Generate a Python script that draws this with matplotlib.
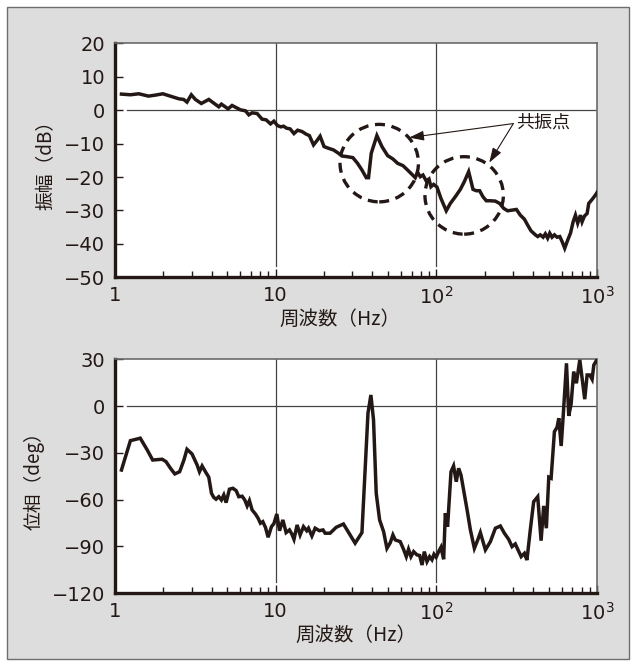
import numpy as np
import matplotlib
matplotlib.use('Agg')
import matplotlib.pyplot as plt
from matplotlib.patches import Ellipse, Rectangle
from matplotlib.ticker import FixedLocator, FixedFormatter, LogLocator, NullFormatter

# 振幅特性 (読み取り値)
freq_mag = [1.10, 1.25, 1.41, 1.62, 1.79, 1.99, 2.21, 2.50, 2.68, 2.81, 2.99, 3.17, 3.45, 3.84,
            4.43, 4.60, 5.06, 5.36, 6.04, 6.49, 6.81, 7.14, 7.67, 8.24, 8.73, 9.29, 9.75, 10.26,
            10.77, 11.2, 11.7, 12.3, 13.0, 13.7, 14.6, 15.5, 16.2, 17.2, 18.0, 18.9, 20.0, 21.3,
            22.9, 24.6, 25.8, 27.7, 30.2, 32.3, 34.4, 36.6, 37.8, 39.3, 42.6, 45.8, 49.7, 53.6,
            57.3, 61.9, 66.1, 70.4, 73.8, 76.3, 79.3, 82.4, 86.4, 89.8, 92.4, 96.0, 100.7, 106.6,
            115, 121.9, 130.9, 140.7, 148.9, 158.5, 168.7, 176.9, 185.5, 194.5, 204, 216, 232,
            247, 262, 277, 295, 314, 332, 352, 369, 387, 412, 426, 442, 460, 475, 491, 506, 523,
            541, 562, 584, 604, 627, 655, 681, 707, 731, 755, 785, 804, 831, 864, 884, 928, 973,
            1000]
mag_db = [4.8, 4.6, 4.9, 4.2, 4.5, 4.9, 4.2, 3.4, 3.2, 2.4, 4.6, 3.2, 2.0, 3.2,
          1.0, 1.8, 0.4, 1.4, 0.1, -0.2, -1.4, -0.8, -1.0, -2.7, -2.9, -4.1, -3.3, -4.6,
          -5.0, -4.8, -5.4, -5.6, -7.0, -6.0, -6.4, -7.2, -7.6, -10.4, -9.2, -7.8, -10.9, -11.4,
          -11.9, -12.9, -13.7, -13.9, -14.2, -15.9, -17.9, -20.2, -20.2, -12.9, -7.6, -10.9, -13.6, -14.6,
          -15.9, -16.6, -17.9, -19.2, -20.2, -18.6, -19.9, -19.4, -21.2, -20.6, -22.9, -22.2, -23.0, -26.4,
          -30.1, -27.9, -25.9, -23.7, -21.4, -18.4, -23.7, -24.1, -24.1, -25.9, -27.1, -27.1, -27.2,
          -27.9, -29.4, -30.1, -29.9, -29.7, -31.4, -32.6, -34.4, -36.1, -37.3, -37.8, -37.3, -38.0, -37.0, -38.3, -36.8, -38.0,
          -37.3, -38.0, -37.8, -39.3, -41.3, -38.8, -36.8, -33.4, -31.4, -33.8, -31.4, -33.4, -31.7, -30.9, -27.9, -26.7, -25.4,
          -24.5]

# 位相特性 (読み取り値)
freq_ph = [1.10, 1.25, 1.44, 1.59, 1.72, 1.97, 2.08, 2.22, 2.36, 2.53, 2.69, 2.81, 3.02, 3.25,
           3.36, 3.49, 3.66, 3.84, 3.99, 4.12, 4.26, 4.43, 4.60, 4.76, 4.92, 5.16, 5.42, 5.68,
           5.90, 6.19, 6.43, 6.65, 6.87, 7.14, 7.49, 7.78, 8.04, 8.32, 8.64, 8.98, 9.42, 9.75,
           10.17, 10.57, 11.09, 11.62, 12.19, 12.6, 13.0, 13.6, 14.2, 14.9, 15.6, 16.0, 16.8, 17.6,
           18.7, 19.7, 20.3, 21.8, 23.8, 26.4, 28.8, 31.2, 34.4, 36.1, 37.5, 39.1, 40.6, 42.2,
           44.3, 46.9, 49.2, 51.6, 53.6, 55.4, 59.5, 62.4, 64.9, 67.0, 69.4, 72.1, 75.6, 78.6,
           81.3, 84.0, 87.3, 90.6, 93.7, 96.5, 99.5, 103.1, 106.6, 110.8, 113.5, 117.2, 123.1, 127.7,
           132.7, 137.3, 142, 147.5, 155, 162.5, 172, 180.5, 187.4, 201.4, 216.3, 232.4, 249.5, 264.3,
           281, 295, 309, 320, 336, 352, 365, 383, 402, 426, 447, 464, 482, 499, 516, 541, 562,
           576, 596, 613, 643, 664, 687, 713, 741, 778, 804, 835, 864, 898, 928, 951, 998]
phase_deg = [-41.0, -22.2, -20.6, -28.1, -34.6, -34.1, -35.6, -39.9, -43.5, -42.1, -34.6, -27.7, -30.7, -37.8,
             -42.1, -38.4, -42.1, -45.6, -55.9, -58.5, -59.7, -58.1, -60.2, -57.0, -61.9, -53.3, -52.7, -54.2,
             -58.1, -57.8, -60.2, -64.0, -60.6, -66.6, -69.2, -71.9, -75.1, -74.1, -77.7, -84.1, -77.3, -75.4,
             -69.2, -79.9, -73.0, -81.1, -79.4, -82.0, -85.4, -76.2, -82.6, -77.3, -79.9, -78.3, -83.3, -78.3,
             -79.9, -79.4, -81.5, -81.5, -77.7, -75.6, -82.0, -87.9, -81.1, -38.8, -4.6, 7.1, -8.9, -55.9,
             -73.0, -80.5, -91.2, -87.6, -82.6, -85.8, -86.9, -91.8, -96.5, -91.8, -96.5, -93.3, -95.4, -95.8,
             -101.9, -93.3, -99.7, -96.5, -98.5, -95.0, -96.9, -93.3, -90.5, -98.2, -68.7, -77.3, -42.1, -38.4,
             -48.5, -39.9, -44.2, -53.8, -66.6, -79.4, -91.2, -85.8, -81.1, -92.2, -86.9, -78.3, -76.9, -81.5,
             -85.4, -90.1, -88.4, -91.8, -96.5, -94.4, -98.7, -79.4, -61.3, -58.1, -86.3, -64.0, -78.3, -45.6, -46.3, -16.4, -13.6,
             -7.8, -25.6, -6.8, 27.4, -6.3, 1.3, 22.1, 14.6, 29.6, 17.8, 4.4, 19.9, 19.9, 17.2, 26.3, 30.0]

mag_ticks = [20, 10, 0, -10, -20, -30, -40, -50]
phase_ticks = [30, 0, -30, -60, -90, -120]
x_ticks = [1, 10, 100, 1000]
x_labels = ['1', '10', r'$\mathregular{10^2}$', r'$\mathregular{10^3}$']

ink = '#231815'
cjk = ['Noto Sans CJK JP', 'DejaVu Sans']

fig = plt.figure(figsize=(6.36, 6.66), dpi=100)
fig.patches.append(Rectangle((7 / 636, 7 / 666), 622 / 636, 652 / 666, transform=fig.transFigure,
                             facecolor='#dcdddc', edgecolor='#6e6e6e', lw=1.0, zorder=-10))

ax1 = fig.add_axes([0.1805, 0.5836, 0.7587, 0.3514])
ax2 = fig.add_axes([0.1805, 0.1092, 0.7587, 0.3514])


def style_axes(ax, yticks, ylabel, xlabel_x):
    ax.set_facecolor('white')
    ax.set_xscale('log')
    ax.set_xlim(1, 1000)
    ax.set_ylim(yticks[-1], yticks[0])
    ax.xaxis.set_major_locator(FixedLocator(x_ticks))
    ax.xaxis.set_major_formatter(FixedFormatter(x_labels))
    ax.xaxis.set_minor_locator(LogLocator(base=10, subs=np.arange(2, 10)))
    ax.xaxis.set_minor_formatter(NullFormatter())
    ax.set_yticks(yticks)
    ax.tick_params(axis='both', which='major', direction='in', length=6, width=1.0,
                   color=ink, labelsize=14, labelcolor=ink, pad=6)
    ax.tick_params(axis='x', which='minor', direction='in', length=4.5, width=1.0, color=ink)
    ax.tick_params(axis='y', pad=7)
    for s in ['left', 'bottom']:
        ax.spines[s].set_linewidth(2.4)
        ax.spines[s].set_color(ink)
    for s in ['top', 'right']:
        ax.spines[s].set_linewidth(1.2)
        ax.spines[s].set_color('#6a6a6a')
    ax.axhline(0, xmin=0.025, color='#444444', lw=0.9, zorder=1)
    for xv in [10, 100]:
        ax.axvline(xv, ymin=0.05, color='#444444', lw=0.9, zorder=1)
    ax.set_xlabel('周波数（Hz）', family=cjk, fontsize=14, color=ink)
    ax.xaxis.set_label_coords(xlabel_x, -0.135)
    ax.set_ylabel(ylabel, family=cjk, fontsize=13.5, color=ink, labelpad=5)


style_axes(ax1, mag_ticks, '振幅（dB）', 0.467)
style_axes(ax2, phase_ticks, '位相（deg）', 0.5)

ax1.plot(freq_mag, mag_db, color=ink, lw=2.5, solid_joinstyle='miter', zorder=3)
ax2.plot(freq_ph, phase_deg, color=ink, lw=2.5, solid_joinstyle='miter', zorder=3)

# 共振点の破線円
for cx, cy in [(0.548, 0.488), (0.724, 0.350)]:
    ax1.add_patch(Ellipse((cx, cy), 0.1625, 0.331, transform=ax1.transAxes, fill=False,
                          edgecolor=ink, lw=2.4, linestyle=(0, (3, 2)), zorder=4))

ax1.text(0.832, 0.659, '共振点', transform=ax1.transAxes, family=cjk, fontsize=13,
         color=ink, ha='left', va='center')
for head in [(0.610, 0.597), (0.776, 0.490)]:
    ax1.annotate('', xy=head, xytext=(0.826, 0.657), xycoords='axes fraction',
                 textcoords='axes fraction',
                 arrowprops=dict(arrowstyle='-|>,head_length=0.9,head_width=0.3',
                                 mutation_scale=10, lw=0.8, color=ink,
                                 shrinkA=0, shrinkB=0))

fig.savefig('out.png', dpi=100)
